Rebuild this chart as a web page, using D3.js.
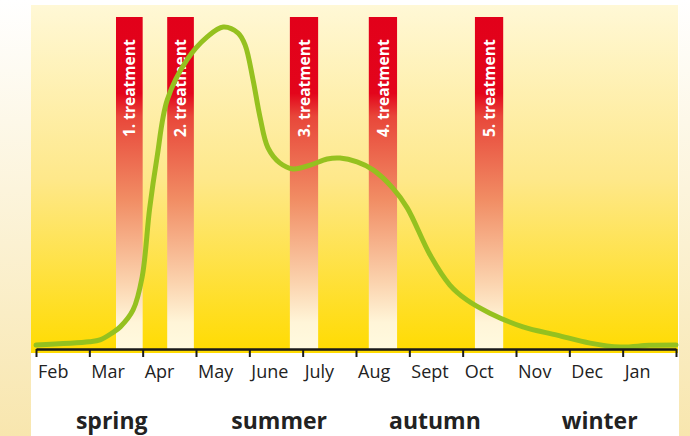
<!DOCTYPE html>
<html>
<head>
<meta charset="utf-8">
<script src="https://cdn.jsdelivr.net/npm/d3@7"></script>
<style>
  body { margin: 0; background: #fff; }
  text { font-family: "Open Sans", Lato, sans-serif; }
</style>
</head>
<body>
<div id="chart"></div>
<script>
// months counted from 1 Feb (0) to 1 Feb next year (12)
let months = ["Feb", "Mar", "Apr", "May", "June", "July", "Aug", "Sept", "Oct", "Nov", "Dec", "Jan"];
let seasons = ["spring", "summer", "autumn", "winter"];
let seasonPos = [1.42, 4.56, 7.48, 10.57];

let treatments = ["1. treatment", "2. treatment", "3. treatment", "4. treatment", "5. treatment"];
let treatStart = [1.50, 2.46, 4.76, 6.24, 8.23];
let treatEnd = [2.00, 2.96, 5.29, 6.77, 8.76];

// pest pressure curve (relative, peak = 100)
let curveMonth = [0, 1.0, 1.2, 1.43, 1.58, 1.82, 1.99, 2.13, 2.27, 2.46, 2.83, 3.21, 3.51, 3.79, 3.92, 4.07, 4.2, 4.35, 4.57, 4.82, 5.14, 5.46, 5.7, 6.02, 6.32, 6.69, 6.96, 7.39, 7.76, 8.08, 8.51, 9.13, 9.77, 10.39, 10.95, 11.5, 12];
let curveValue = [0.3, 1.3, 1.9, 4.1, 6.0, 11.3, 21.6, 43.0, 59.2, 77.1, 89.7, 96.9, 100, 98.1, 94.4, 83.4, 71.8, 62.1, 57.4, 55.5, 56.7, 58.6, 58.9, 57.7, 55.2, 49.5, 43.3, 28.5, 19.1, 14.4, 10.3, 6.0, 3.4, 0.9, -0.3, 0.2, 0.3];

let width = 690, height = 436;

let svg = d3.select("#chart")
            .append("svg")
            .attr("width", width)
            .attr("height", height)

let defs = svg.append("defs");

let bg = defs.append("linearGradient").attr("id", "bg").attr("x1", 0).attr("y1", 0).attr("x2", 0).attr("y2", 1);
bg.append("stop").attr("offset", "0%").attr("stop-color", "#fff8d6");
bg.append("stop").attr("offset", "50%").attr("stop-color", "#fee88a");
bg.append("stop").attr("offset", "100%").attr("stop-color", "#ffdb00");

let side = defs.append("linearGradient").attr("id", "side").attr("x1", 0).attr("y1", 0).attr("x2", 0).attr("y2", 1);
side.append("stop").attr("offset", "0%").attr("stop-color", "#ffffff");
side.append("stop").attr("offset", "100%").attr("stop-color", "#f8e6ae");

let red = defs.append("linearGradient").attr("id", "red").attr("x1", 0).attr("y1", 0).attr("x2", 0).attr("y2", 1);
red.append("stop").attr("offset", "0%").attr("stop-color", "#e2001a");
red.append("stop").attr("offset", "23%").attr("stop-color", "#e3051b");
red.append("stop").attr("offset", "30%").attr("stop-color", "#e8473a");
red.append("stop").attr("offset", "55%").attr("stop-color", "#f18d64");
red.append("stop").attr("offset", "80%").attr("stop-color", "#fbd3ae");
red.append("stop").attr("offset", "92%").attr("stop-color", "#fff5d8");
red.append("stop").attr("offset", "100%").attr("stop-color", "#fffadf");

// side strips
svg.append("rect").attr("x", 0).attr("y", 0).attr("width", 31).attr("height", height).attr("fill", "url(#side)");
svg.append("rect").attr("x", 679).attr("y", 0).attr("width", 11).attr("height", height).attr("fill", "url(#side)");

// panel
svg.append("rect").attr("x", 31).attr("y", 5).attr("width", 647).attr("height", 348).attr("fill", "url(#bg)");

let xscale = d3.scaleLinear()
               .domain([0, 12])
               .range([36, 676])

let yscale = d3.scaleLinear()
               .domain([0, 100])
               .range([346, 27])

let axisY = 349;

// treatment bars
let bars = svg.selectAll(".treat")
              .data(treatments)
              .enter()
              .append("g")
              .attr("class", "treat")

bars.append("rect")
    .attr("x", (d, i) => xscale(treatStart[i]))
    .attr("y", 17)
    .attr("width", (d, i) => xscale(treatEnd[i]) - xscale(treatStart[i]))
    .attr("height", axisY - 17)
    .attr("fill", "url(#red)")

bars.append("text")
    .text(d => d)
    .attr("transform", (d, i) => `translate(${(xscale(treatStart[i]) + xscale(treatEnd[i])) / 2}, 137) rotate(-90)`)
    .attr("dy", "0.36em")
    .attr("fill", "#fff")
    .attr("font-weight", "bold")
    .attr("font-size", 15.5)

// curve
let line = d3.line()
             .x((d, i) => xscale(curveMonth[i]))
             .y(d => yscale(d))
             .curve(d3.curveCatmullRom)

svg.append("path")
   .datum(curveValue)
   .attr("d", line)
   .attr("fill", "none")
   .attr("stroke", "#95c11f")
   .attr("stroke-width", 5)
   .attr("stroke-linecap", "round")

// axis
let xaxis = svg.append("g")
               .attr("transform", `translate(0, ${axisY})`)
               .call(d3.axisBottom(xscale).tickValues(d3.range(0, 13)).tickFormat("").tickSize(8).tickSizeOuter(0))

xaxis.select(".domain").attr("stroke", "#1a1a1a").attr("stroke-width", 2.5)
xaxis.selectAll(".tick line").attr("stroke", "#1a1a1a").attr("stroke-width", 2)

svg.selectAll(".month")
   .data(months)
   .enter()
   .append("text")
   .attr("class", "month")
   .text(d => d)
   .attr("x", (d, i) => xscale(i) + 2)
   .attr("y", 378)
   .attr("font-size", 18)
   .attr("fill", "#222")

svg.selectAll(".season")
   .data(seasons)
   .enter()
   .append("text")
   .attr("class", "season")
   .text(d => d)
   .attr("x", (d, i) => xscale(seasonPos[i]))
   .attr("y", 429)
   .attr("text-anchor", "middle")
   .attr("font-size", 23)
   .attr("font-weight", "bold")
   .attr("fill", "#222")
</script>
</body>
</html>
